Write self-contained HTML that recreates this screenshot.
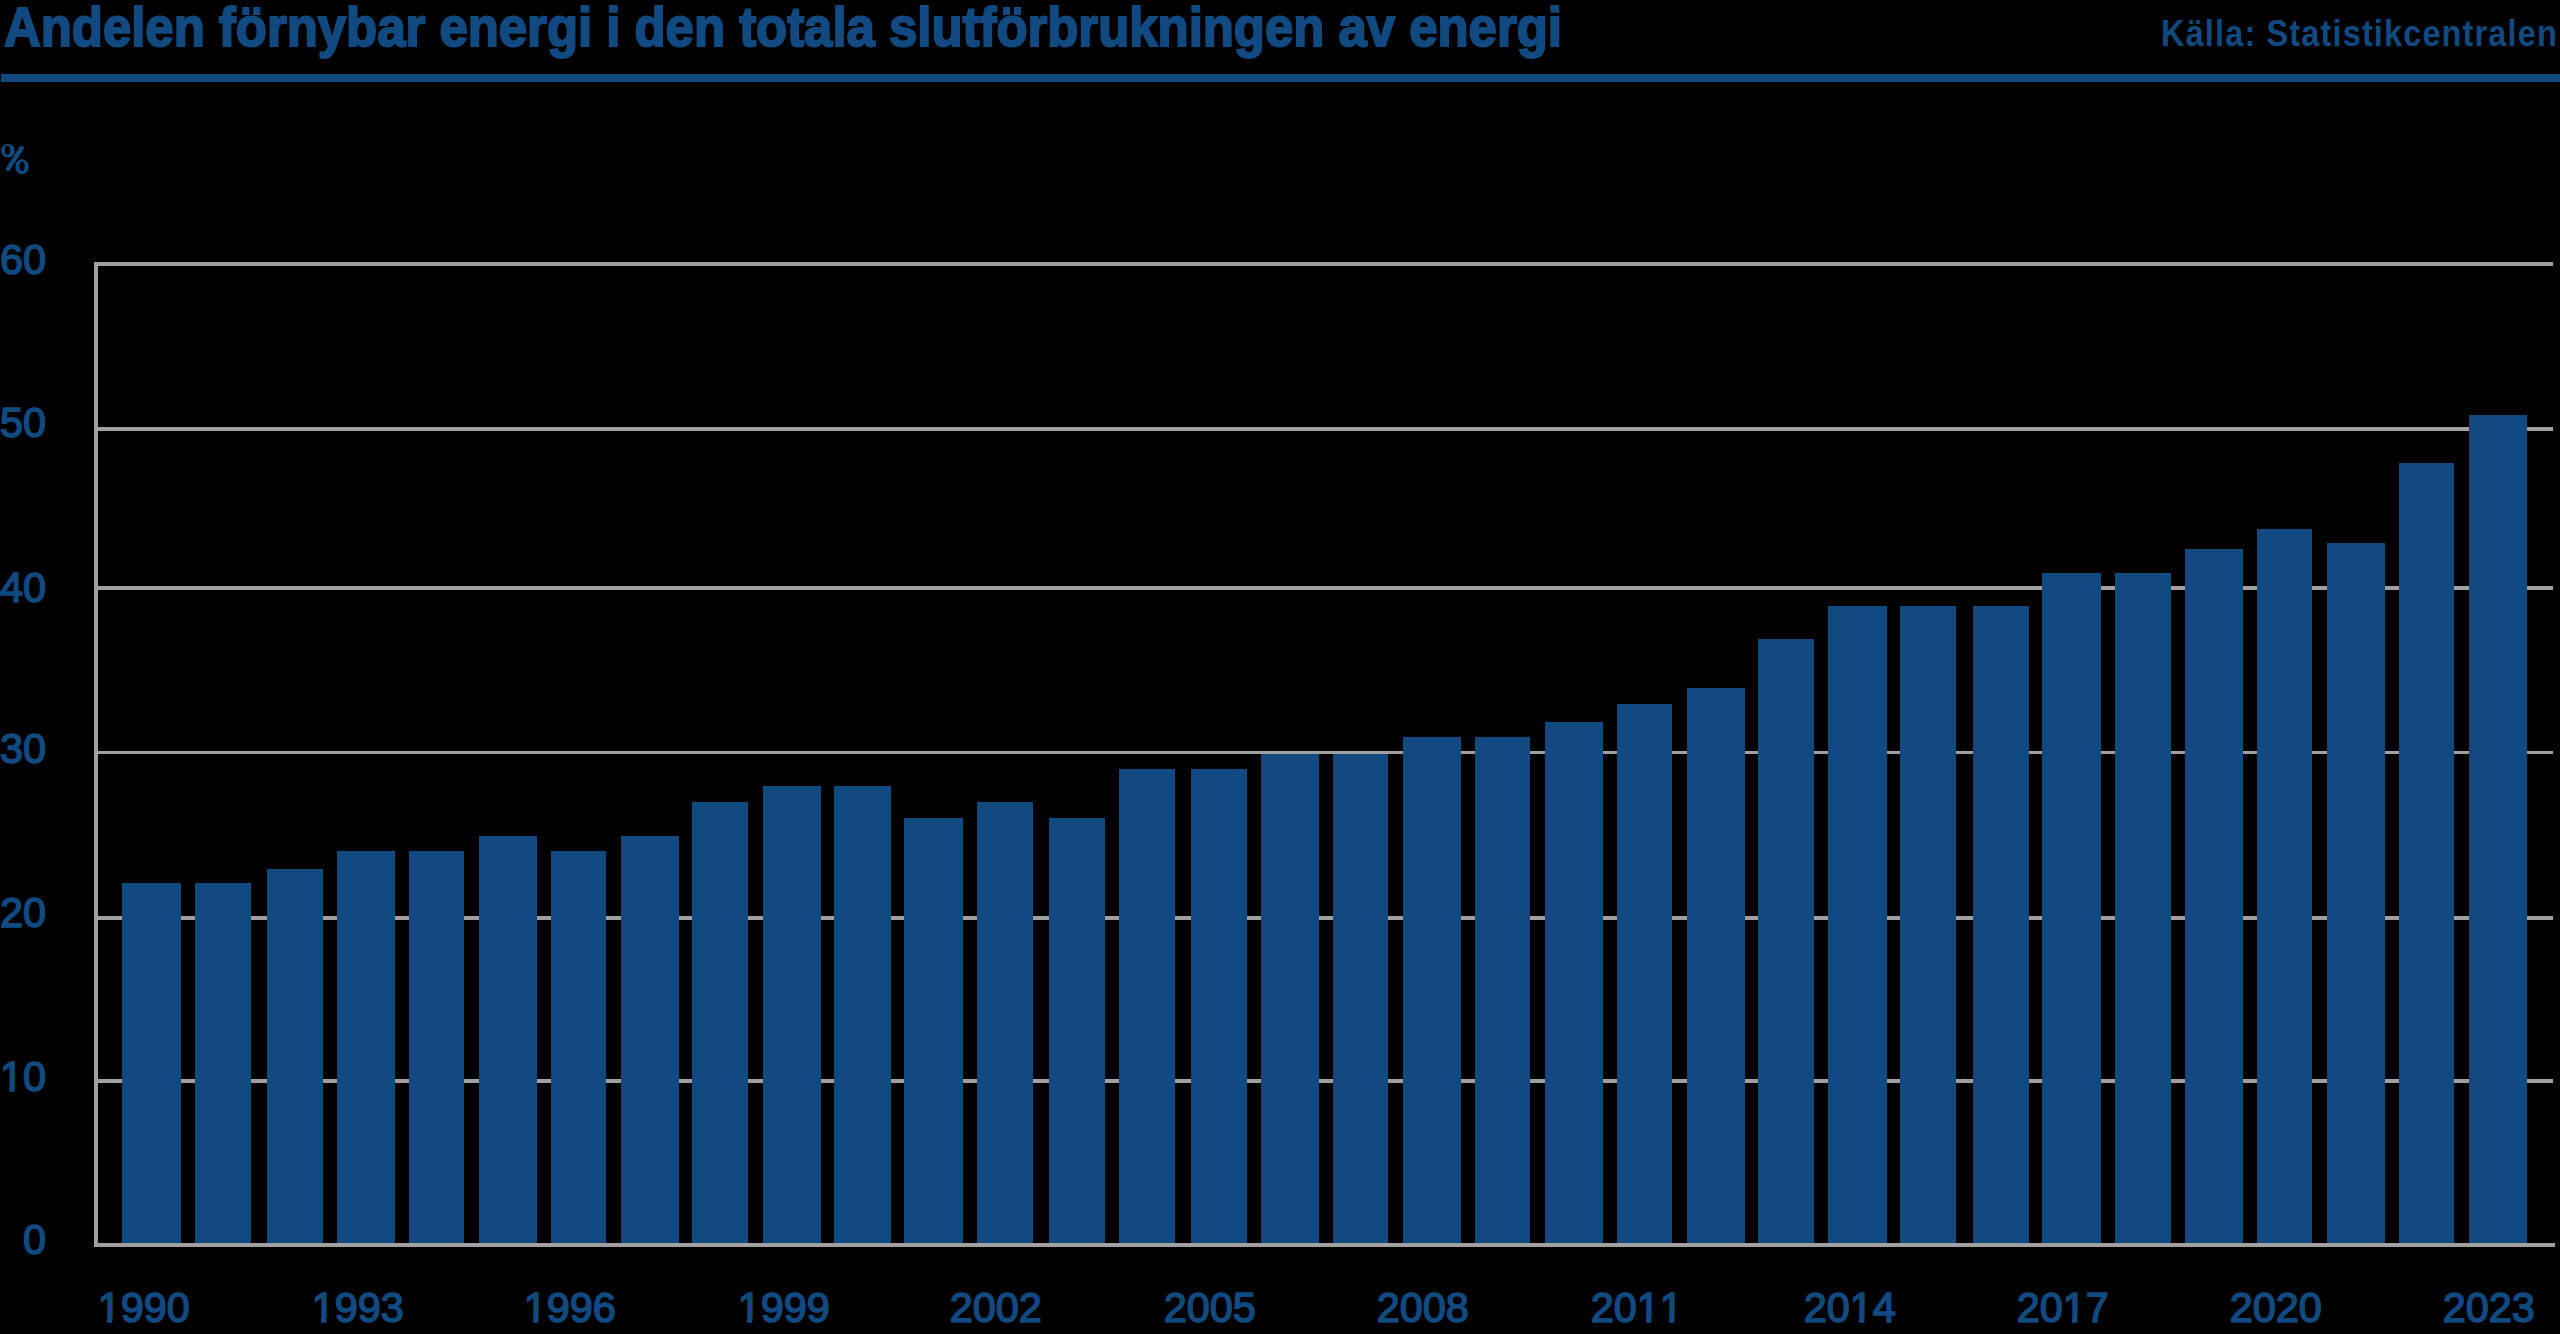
<!DOCTYPE html><html><head><meta charset="utf-8"><style>
html,body{margin:0;padding:0;background:#000;width:2560px;height:1334px;overflow:hidden;position:relative}
div{position:absolute}
.t{font-family:"Liberation Sans",sans-serif;color:#114a81;white-space:nowrap;line-height:1}
.g{background:#a0a0a0}
.b{background:#114a81}
.yl{font-kerning:none;font-size:43px;-webkit-text-stroke:1.6px #114a81;text-align:right;width:120px;transform:scaleX(0.963);transform-origin:100% 0}
.xl{font-kerning:none;font-size:43px;-webkit-text-stroke:1.6px #114a81;letter-spacing:0px;transform:scaleX(0.963);transform-origin:50% 0}
</style></head><body>
<div class="t" style="left:4px;top:0px;font-size:55px;font-weight:bold;letter-spacing:0px;transform:scaleX(0.9252);transform-origin:0 0;-webkit-text-stroke:2px #114a81">Andelen förnybar energi i den totala slutförbrukningen av energi</div>
<div class="t" style="right:2px;top:16px;font-size:36px;font-weight:bold;letter-spacing:1.31px;transform:scaleX(0.9);transform-origin:100% 0">Källa: Statistikcentralen</div>
<div class="b" style="left:1px;top:74px;width:2559px;height:8px"></div>
<svg style="position:absolute;left:0;top:130px" width="40" height="50" viewBox="0 130 40 50"><path fill="#114a81" fill-rule="evenodd" d="M0.93 150.70a6.97 6.75 0 1 0 13.94 0a6.97 6.75 0 1 0 -13.94 0ZM4.90 150.36a2.60 4.60 0 1 0 5.20 0a2.60 4.60 0 1 0 -5.20 0ZM15.30 166.65a6.75 7.45 0 1 0 13.50 0a6.75 7.45 0 1 0 -13.50 0ZM19.45 166.35a2.60 4.85 0 1 0 5.20 0a2.60 4.85 0 1 0 -5.20 0Z"/><line x1="8.1" y1="168.9" x2="21.6" y2="148" stroke="#114a81" stroke-width="4.4" stroke-linecap="round"/></svg>
<div class="g" style="left:94px;top:262px;width:2459px;height:4px"></div>
<div class="g" style="left:94px;top:427px;width:2459px;height:4px"></div>
<div class="g" style="left:94px;top:586px;width:2459px;height:4px"></div>
<div class="g" style="left:94px;top:751px;width:2459px;height:3px"></div>
<div class="g" style="left:94px;top:916px;width:2459px;height:4px"></div>
<div class="g" style="left:94px;top:1079px;width:2459px;height:4px"></div>
<div class="g" style="left:94px;top:262px;width:4px;height:985px"></div>
<div class="b" style="left:122px;top:883px;width:59px;height:362px"></div>
<div class="b" style="left:195px;top:883px;width:56px;height:362px"></div>
<div class="b" style="left:267px;top:869px;width:56px;height:376px"></div>
<div class="b" style="left:337px;top:851px;width:58px;height:394px"></div>
<div class="b" style="left:409px;top:851px;width:55px;height:394px"></div>
<div class="b" style="left:479px;top:836px;width:58px;height:409px"></div>
<div class="b" style="left:551px;top:851px;width:55px;height:394px"></div>
<div class="b" style="left:621px;top:836px;width:58px;height:409px"></div>
<div class="b" style="left:692px;top:802px;width:56px;height:443px"></div>
<div class="b" style="left:763px;top:786px;width:58px;height:459px"></div>
<div class="b" style="left:834px;top:786px;width:57px;height:459px"></div>
<div class="b" style="left:904px;top:818px;width:59px;height:427px"></div>
<div class="b" style="left:977px;top:802px;width:56px;height:443px"></div>
<div class="b" style="left:1049px;top:818px;width:56px;height:427px"></div>
<div class="b" style="left:1119px;top:769px;width:56px;height:476px"></div>
<div class="b" style="left:1191px;top:769px;width:56px;height:476px"></div>
<div class="b" style="left:1261px;top:754px;width:58px;height:491px"></div>
<div class="b" style="left:1333px;top:754px;width:55px;height:491px"></div>
<div class="b" style="left:1403px;top:737px;width:58px;height:508px"></div>
<div class="b" style="left:1475px;top:737px;width:55px;height:508px"></div>
<div class="b" style="left:1545px;top:722px;width:58px;height:523px"></div>
<div class="b" style="left:1617px;top:704px;width:55px;height:541px"></div>
<div class="b" style="left:1687px;top:688px;width:58px;height:557px"></div>
<div class="b" style="left:1758px;top:639px;width:56px;height:606px"></div>
<div class="b" style="left:1828px;top:606px;width:59px;height:639px"></div>
<div class="b" style="left:1900px;top:606px;width:56px;height:639px"></div>
<div class="b" style="left:1973px;top:606px;width:56px;height:639px"></div>
<div class="b" style="left:2042px;top:573px;width:59px;height:672px"></div>
<div class="b" style="left:2115px;top:573px;width:56px;height:672px"></div>
<div class="b" style="left:2185px;top:549px;width:58px;height:696px"></div>
<div class="b" style="left:2257px;top:529px;width:55px;height:716px"></div>
<div class="b" style="left:2327px;top:543px;width:58px;height:702px"></div>
<div class="b" style="left:2399px;top:463px;width:55px;height:782px"></div>
<div class="b" style="left:2469px;top:415px;width:58px;height:830px"></div>
<div class="g" style="left:94px;top:1243px;width:2461px;height:4px"></div>
<div class="t yl" style="left:-74px;top:237.5px">60</div>
<div class="t yl" style="left:-74px;top:400.5px">50</div>
<div class="t yl" style="left:-74px;top:565.5px">40</div>
<div class="t yl" style="left:-74px;top:726.5px">30</div>
<div class="t yl" style="left:-74px;top:890.5px">20</div>
<div class="t yl" style="left:-74px;top:1054.5px">10</div>
<div class="t yl" style="left:-74px;top:1217.5px">0</div>
<div class="t xl" style="left:96px;top:1286px">1990</div>
<div class="t xl" style="left:310px;top:1286px">1993</div>
<div class="t xl" style="left:522px;top:1286px">1996</div>
<div class="t xl" style="left:736px;top:1286px">1999</div>
<div class="t xl" style="left:948px;top:1286px">2002</div>
<div class="t xl" style="left:1162px;top:1286px">2005</div>
<div class="t xl" style="left:1375px;top:1286px">2008</div>
<div class="t xl" style="left:1589px;top:1286px">2011</div>
<div class="t xl" style="left:1802px;top:1286px">2014</div>
<div class="t xl" style="left:2015px;top:1286px">2017</div>
<div class="t xl" style="left:2228px;top:1286px">2020</div>
<div class="t xl" style="left:2441px;top:1286px">2023</div>
<svg style="position:absolute;left:0;top:0" width="2560" height="1334" fill="#000"><rect x="1" y="1087" width="8.38" height="5"/><rect x="14.46" y="1087" width="7.54" height="5"/><rect x="99" y="1318" width="7.92" height="5"/><rect x="112.25" y="1318" width="7.75" height="5"/><rect x="313" y="1318" width="7.93" height="5"/><rect x="326.25" y="1318" width="7.75" height="5"/><rect x="525" y="1318" width="7.92" height="5"/><rect x="538.25" y="1318" width="7.75" height="5"/><rect x="739" y="1318" width="7.92" height="5"/><rect x="752.25" y="1318" width="7.75" height="5"/><rect x="1638" y="1318" width="7.92" height="5"/><rect x="1651.25" y="1318" width="7.75" height="5"/><rect x="1661" y="1318" width="7.92" height="5"/><rect x="1674.25" y="1318" width="7.75" height="5"/><rect x="1851" y="1318" width="7.92" height="5"/><rect x="1864.25" y="1318" width="7.75" height="5"/><rect x="2064" y="1318" width="7.93" height="5"/><rect x="2077.25" y="1318" width="7.75" height="5"/></svg>
</body></html>
